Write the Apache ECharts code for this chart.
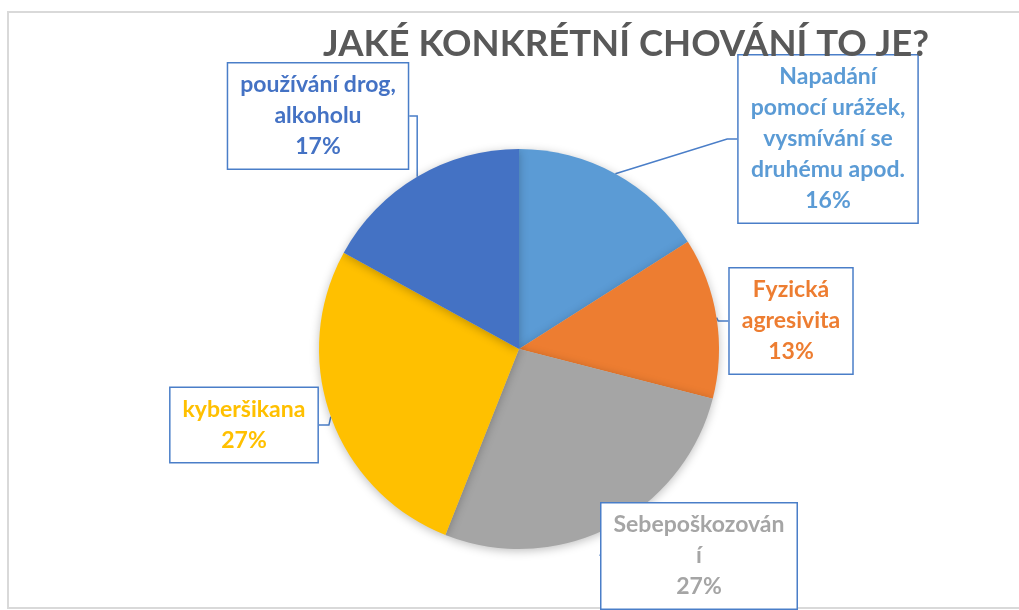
<!DOCTYPE html>
<html>
<head>
<meta charset="utf-8">
<script src="https://cdn.jsdelivr.net/npm/echarts@6/dist/echarts.min.js"></script>
<style>
html,body{margin:0;padding:0;background:#fff;}
#chart{width:1019px;height:610px;}
</style>
</head>
<body>
<div id="chart"></div>
<script>
const categories = [
  "Napadání\npomocí urážek,\nvysmívání se\ndruhému apod.",
  "Fyzická\nagresivita",
  "Sebepoškozován\ní",
  "kyberšikana",
  "používání drog,\nalkoholu"
];
const values = [16, 13, 27, 27, 17];
const colors = ["#5B9BD5", "#ED7D31", "#A5A5A5", "#FFC000", "#4472C4"];
const titleText = "JAKÉ KONKRÉTNÍ CHOVÁNÍ TO JE?";

// label box centre positions (layout, not data)
const labelPos = [[828, 139], [791, 321], [699, 556], [244, 425], [318, 116]];

const chart = echarts.init(document.getElementById('chart'));
chart.setOption({
  animation: false,
  title: {
    text: titleText,
    left: 621, top: 21, textAlign: 'center',
    textStyle: {fontFamily: 'Lato', fontSize: 36.5, fontWeight: 'bold', color: '#595959'}
  },
  graphic: [{
    type: 'rect', z: -1,
    shape: {x: 8, y: 12, width: 1040, height: 596},
    style: {fill: 'none', stroke: '#d9d9d9', lineWidth: 2}
  }],
  series: [{
    type: 'pie',
    center: [519, 349],
    radius: 200,
    startAngle: 90,
    clockwise: true,
    data: categories.map((n, i) => ({
      name: n, value: values[i],
      itemStyle: {color: colors[i]},
      label: {color: colors[i]}
    })),
    itemStyle: {shadowBlur: 10, shadowColor: 'rgba(0,0,0,0.25)', shadowOffsetX: 0, shadowOffsetY: 2},
    label: {
      show: true,
      formatter: '{b}\n{c}%',
      fontFamily: 'Lato', fontSize: 23, fontWeight: 'bold',
      lineHeight: 31, align: 'center',
      backgroundColor: '#fff',
      borderColor: '#4A7EC8', borderWidth: 1.5,
      padding: [6, 12]
    },
    labelLine: {show: true, length: 10, length2: 10, smooth: false,
      lineStyle: {color: '#4A7EC8', width: 1.5}},
    labelLayout: function (p) {
      const pos = labelPos[p.dataIndex];
      return {x: pos[0], y: pos[1], align: 'center', verticalAlign: 'middle', moveOverlap: null};
    }
  }]
});
</script>
</body>
</html>
